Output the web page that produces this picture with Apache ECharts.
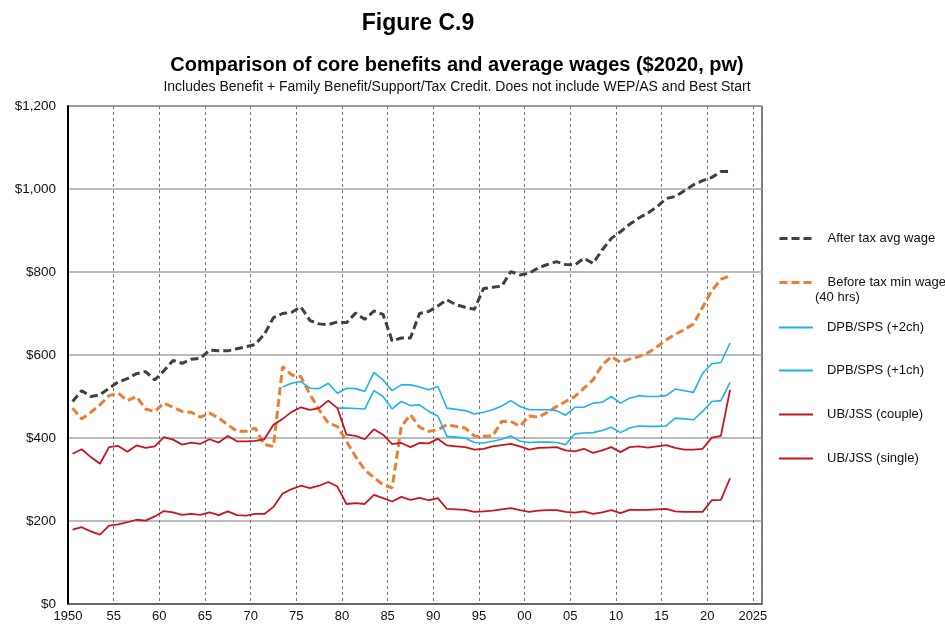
<!DOCTYPE html>
<html>
<head>
<meta charset="utf-8">
<title>Figure C.9</title>
<script src="https://cdn.jsdelivr.net/npm/echarts@6/dist/echarts.min.js"></script>
<style>
  html, body { margin: 0; padding: 0; background: #fff; }
  #chart { width: 945px; height: 628px; }
</style>
</head>
<body>
<div id="chart"></div>
<script>
// years 1950-2022, values in $2020 per week
const years = [];
for (let y = 1950; y <= 2022; y++) years.push(y);

const avgWage = [
  488, 514, 500, 504, 520, 535, 543, 555, 560, 540, // 1950s
  562, 587, 580, 590, 592, 612, 610, 610, 615, 620, // 1960s
  625, 650, 690, 700, 703, 716, 683, 675, 673, 680, // 1970s
  678, 701, 686, 706, 698, 634, 641, 641, 700, 705, // 1980s
  718, 733, 721, 715, 710, 760, 763, 766, 801, 793, // 1990s
  797, 810, 818, 825, 818, 817, 833, 821, 853, 881, // 2000s
  897, 915, 930, 942, 957, 977, 982, 996, 1010, 1020, // 2010s
  1028, 1042, 1042
];

const minWage = [
  472, 446, 462, 480, 502, 508, 490, 500, 470, 464,
  484, 474, 464, 462, 450, 460, 448, 432, 416, 416,
  424, 384, 380, 572, 552, 548, 505, 468, 436, 428,
  392, 355, 323, 305, 287, 280, 428, 456, 426, 416,
  420, 432, 428, 424, 405, 404, 405, 440, 440, 428,
  453, 450, 462, 476, 488, 500, 520, 540, 576, 596,
  582, 590, 596, 605, 620, 636, 650, 661, 675, 715,
  755, 782, 791
];

// DPB/SPS starts 1973 (+2ch) and 1979 (+1ch)
const dpb2 = [
  null, null, null, null, null, null, null, null, null, null,
  null, null, null, null, null, null, null, null, null, null,
  null, null, null, 523, 532, 536, 520, 519, 532, 508,
  520, 519, 512, 558, 540, 514, 528, 528, 523, 516,
  524, 472, 469, 466, 458, 462, 468, 477, 490, 476,
  468, 468, 468, 466, 455, 474, 474, 484, 486, 500,
  484, 496, 502, 500, 500, 502, 518, 514, 510, 556,
  579, 582, 629
];

const dpb1 = [
  null, null, null, null, null, null, null, null, null, null,
  null, null, null, null, null, null, null, null, null, null,
  null, null, null, null, null, null, null, null, null, 472,
  472, 471, 470, 514, 500, 470, 488, 478, 480, 464,
  453, 404, 402, 400, 389, 388, 392, 397, 405, 392,
  389, 390, 390, 389, 384, 410, 412, 413, 418, 426,
  413, 424, 429, 428, 428, 429, 448, 446, 444, 464,
  488, 490, 534
];

const ubCouple = [
  362, 373, 354, 338, 378, 381, 367, 382, 376, 380,
  402, 396, 384, 389, 386, 397, 389, 405, 392, 392,
  393, 397, 432, 446, 463, 474, 468, 472, 490, 472,
  408, 405, 397, 421, 408, 385, 388, 378, 388, 387,
  398, 382, 380, 378, 372, 374, 380, 383, 386, 380,
  372, 376, 377, 378, 370, 368, 374, 364, 370, 378,
  366, 378, 380, 377, 380, 383, 376, 372, 372, 374,
  401, 405, 516
];

const ubSingle = [
  179, 185, 175, 167, 189, 192, 197, 203, 201, 211,
  224, 221, 215, 217, 215, 221, 214, 223, 214, 213,
  217, 217, 234, 266, 277, 285, 279, 285, 294, 283,
  241, 243, 241, 263, 255, 247, 258, 251, 256, 250,
  255, 229, 228, 227, 222, 223, 225, 228, 231, 226,
  222, 225, 226, 226, 222, 220, 223, 217, 221, 226,
  219, 227, 227, 227, 228, 229, 223, 222, 222, 222,
  250, 251, 303
];

const yTicks = [0, 200, 400, 600, 800, 1000, 1200];

const FONT = "Liberation Sans, Arial, sans-serif";

// points are plotted mid-year
const pts = (arr) => years.map((y, i) => [y + 0.5, arr[i]]);

const lineSeries = (name, arr, color, width, dashed) => ({
  name: name,
  type: "line",
  data: pts(arr),
  showSymbol: false,
  symbol: "none",
  connectNulls: false,
  lineStyle: {
    color: color,
    width: width,
    type: dashed ? [8, 4] : "solid",
  },
  itemStyle: { color: color },
  emphasis: { disabled: true },
});

const legendAt = (name, top, width) => ({
  data: [name],
  orient: "vertical",
  left: 778,
  top: top,
  padding: 0,
  itemWidth: 34,
  itemHeight: 14,
  selectedMode: false,
  itemStyle: { opacity: 0 },
  lineStyle: { width: width },
  textStyle: {
    fontFamily: FONT,
    fontSize: 13,
    color: "#111",
    padding: [0, 0, 0, 9],
  },
});

const chart = echarts.init(document.getElementById("chart"));
chart.setOption({
  animation: false,
  backgroundColor: "#fff",
  title: [
    {
      text: "Figure C.9",
      left: 413,
      top: 7,
      textAlign: "center",
      textStyle: { fontFamily: FONT, fontSize: 23, fontWeight: "bold", color: "#000" },
    },
    {
      text: "Comparison of core benefits and average wages ($2020, pw)",
      left: 452,
      top: 50,
      textAlign: "center",
      textStyle: { fontFamily: FONT, fontSize: 20, fontWeight: "bold", color: "#000" },
    },
    {
      text: "Includes Benefit + Family Benefit/Support/Tax Credit. Does not include WEP/AS and Best Start",
      left: 452,
      top: 75,
      textAlign: "center",
      textStyle: { fontFamily: FONT, fontSize: 14, fontWeight: "normal", color: "#111" },
    },
  ],
  legend: [
    legendAt("After tax avg wage", 232, 3),
    legendAt("Before tax min wage", 276, 3),
    legendAt("DPB/SPS (+2ch)", 321, 1.8),
    legendAt("DPB/SPS (+1ch)", 364, 1.8),
    legendAt("UB/JSS (couple)", 408, 2),
    legendAt("UB/JSS (single)", 452, 2),
  ],
  graphic: [
    {
      type: "text",
      left: 815,
      top: 291,
      style: { text: "(40 hrs)", font: "13px " + FONT, fill: "#111" },
    },
  ],
  grid: {
    left: 68,
    right: 183,
    top: 106,
    bottom: 24,
    show: true,
    borderColor: "#000",
    borderWidth: 1,
  },
  xAxis: {
    type: "value",
    min: 1950,
    max: 2026,
    interval: 5,
    axisLine: { show: true, lineStyle: { color: "#555", width: 1.5 } },
    axisTick: { show: false },
    axisLabel: {
      fontFamily: FONT,
      fontSize: 13,
      color: "#111",
      margin: 6,
      formatter: (v) => {
        if (v === 1950 || v === 2025) return String(v);
        if (v % 5 !== 0) return "";
        return String(v % 100).padStart(2, "0");
      },
    },
    splitLine: { show: true, lineStyle: { color: "#777", type: [3, 3], width: 1 } },
  },
  yAxis: {
    type: "value",
    min: yTicks[0],
    max: yTicks[yTicks.length - 1],
    interval: 200,
    axisLine: { show: true, lineStyle: { color: "#000", width: 2 } },
    axisTick: { show: false },
    axisLabel: {
      fontFamily: FONT,
      fontSize: 13.5,
      color: "#111",
      margin: 12,
      formatter: (v) => "$" + v.toLocaleString("en-US"),
    },
    splitLine: { show: true, lineStyle: { color: "#a6a6a6", width: 1.5 } },
  },
  series: [
    lineSeries("After tax avg wage", avgWage, "#404040", 3, true),
    lineSeries("Before tax min wage", minWage, "#ED7D31", 3, true),
    lineSeries("DPB/SPS (+2ch)", dpb2, "#1DB4EC", 1.6, false),
    lineSeries("DPB/SPS (+1ch)", dpb1, "#1DB4EC", 1.6, false),
    lineSeries("UB/JSS (couple)", ubCouple, "#C8161D", 1.8, false),
    lineSeries("UB/JSS (single)", ubSingle, "#C8161D", 1.8, false),
  ],
});
</script>
</body>
</html>
